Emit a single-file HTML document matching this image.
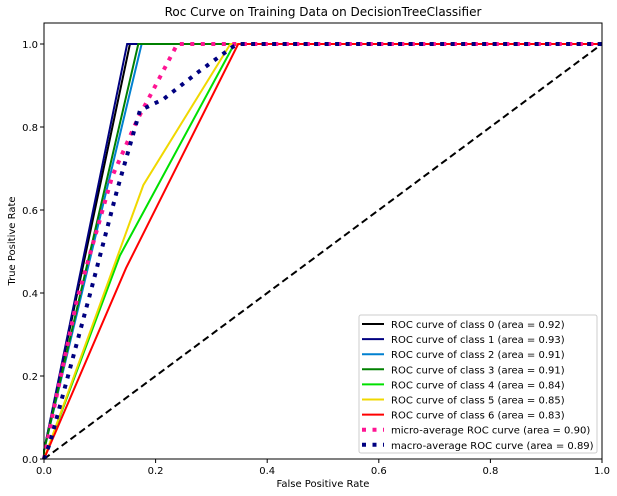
<!DOCTYPE html>
<html><head><meta charset="utf-8"><style>
body{margin:0;background:#fff;}
svg{font-family:"DejaVu Sans","Liberation Sans",sans-serif;display:block;}
</style></head><body>
<svg id="c" width="617" height="496"></svg>
<script>
const seriesNames=["ROC curve of class 0 (area = 0.92)","ROC curve of class 1 (area = 0.93)","ROC curve of class 2 (area = 0.91)","ROC curve of class 3 (area = 0.91)","ROC curve of class 4 (area = 0.84)","ROC curve of class 5 (area = 0.85)","ROC curve of class 6 (area = 0.83)","micro-average ROC curve (area = 0.90)","macro-average ROC curve (area = 0.89)"];
const colors=["#000000","#000080","#0080d0","#008000","#00e000","#f0d800","#ff0000","#ff1493","#000080"];
const fprs=[[0,0,0.154,1],[0,0,0.149,1],[0,0,0.175,1],[0,0,0.169,1],[0,0.136,0.341,1],[0,0.178,0.334,1],[0,0.147,0.348,1],[0,0.016,0.059,0.122,0.167,0.203,0.239,1],[0,0.011,0.083,0.131,0.172,0.214,0.274,0.338,0.35,1]];
const tprs=[[0,0.02,1,1],[0,0.02,1,1],[0,0.02,1,1],[0,0.02,1,1],[0,0.49,1,1],[0,0.66,1,1],[0,0.46,1,1],[0,0.11,0.383,0.68,0.817,0.908,1,1],[0,0.04,0.40,0.648,0.84,0.867,0.93,0.993,1,1]];
const xTicks=[0,0.2,0.4,0.6,0.8,1.0];
const yTicks=[0,0.2,0.4,0.6,0.8,1.0];
const NS="http://www.w3.org/2000/svg";
const svg=document.getElementById('c');
const L=44,R=602,B=459,T=23;
const xs=v=>L+v*(R-L);
const ys=v=>B-v*(B-44)/1.0;
function mk(tag,attrs,parent){const e=document.createElementNS(NS,tag);for(const k in attrs)e.setAttribute(k,attrs[k]);(parent||svg).appendChild(e);return e;}
const title=mk('text',{x:323,y:16,'text-anchor':'middle','font-size':12});


title.textContent="Roc Curve on Training Data on DecisionTreeClassifier";
const diag=mk('line',{x1:xs(0),y1:ys(0),x2:xs(1),y2:ys(1),stroke:'#000','stroke-width':2,'stroke-dasharray':'7,4'});


for(let i=0;i<seriesNames.length;i++){
  const pts=fprs[i].map((f,j)=>xs(f)+','+ys(tprs[i][j])).join(' ');
  const dotted=i>=7;
  const p=mk('polyline',{points:pts,fill:'none',stroke:colors[i],'stroke-width':dotted?4:2,'stroke-dasharray':dotted?'4,6.5':'none'});
  
  
}
const frame=mk('rect',{x:L,y:T,width:R-L,height:B-T,fill:'none',stroke:'#000','stroke-width':1});


xTicks.forEach(v=>{
  mk('line',{x1:xs(v),y1:B,x2:xs(v),y2:B+4,stroke:'#000'});
  const t=mk('text',{x:xs(v),y:B+15,'text-anchor':'middle','font-size':10});
  
  
  t.textContent=v.toFixed(1);
});
yTicks.forEach(v=>{
  mk('line',{x1:L-4,y1:ys(v),x2:L,y2:ys(v),stroke:'#000'});
  const t=mk('text',{x:L-6,y:ys(v)+4,'text-anchor':'end','font-size':10});
  
  
  t.textContent=v.toFixed(1);
});
const xl=mk('text',{x:323,y:487,'text-anchor':'middle','font-size':10});


xl.textContent="False Positive Rate";
const yl=mk('text',{x:15,y:241,'text-anchor':'middle','font-size':10,transform:'rotate(-90 15 241)'});


yl.textContent="True Positive Rate";
const lg=mk('g',{});


mk('rect',{x:359,y:315,width:238,height:138,fill:'#fff',stroke:'#ccc',rx:2},lg);
seriesNames.forEach((n,i)=>{
  const y=324+i*15.1;
  const dotted=i>=7;
  const ln=mk('line',{x1:362,y1:y,x2:384,y2:y,stroke:colors[i],'stroke-width':dotted?4:2,'stroke-dasharray':dotted?'4,6.5':'none'},lg);
  
  
  const t=mk('text',{x:391,y:y+4,'font-size':10},lg);
  
  
  t.textContent=n;
});
</script>
</body></html>
